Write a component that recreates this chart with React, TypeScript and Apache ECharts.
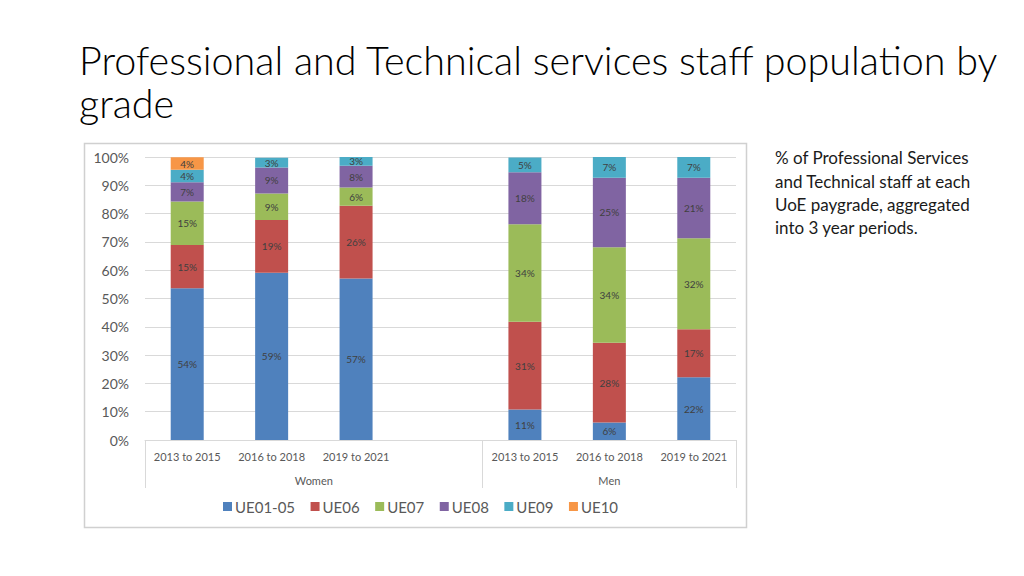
import React, { useEffect, useRef } from "react";
import * as echarts from "echarts";

const categories = ["2013 to 2015", "2016 to 2018", "2019 to 2021", "", "2013 to 2015", "2016 to 2018", "2019 to 2021"];
const groups = ["Women", "Men"];
const seriesNames = ["UE01-05", "UE06", "UE07", "UE08", "UE09", "UE10"];
const ue0105 = [53.6, 59.1, 57.1, null, 10.8, 6.2, 22.2];
const ue06 = [15.3, 18.6, 25.7, null, 31.0, 28.2, 16.9];
const ue07 = [15.4, 9.4, 6.4, null, 34.4, 33.7, 32.2];
const ue08 = [6.8, 9.2, 7.7, null, 18.4, 24.6, 21.4];
const ue09 = [4.4, 3.4, 3.1, null, 5.2, 7.3, 7.3];
const ue10 = [4.4, null, null, null, null, null, null];
const yTicks = [0, 10, 20, 30, 40, 50, 60, 70, 80, 90, 100];
const colors = ["#4F81BD", "#C0504D", "#9BBB59", "#8064A2", "#4BACC6", "#F79646"];

const titleText = "Professional and Technical services staff population by\ngrade";
const noteLines = [
  "% of Professional Services",
  "and Technical staff at each",
  "UoE paygrade, aggregated",
  "into 3 year periods.",
];

export default function App() {
  const ref = useRef<HTMLDivElement>(null);
  useEffect(() => {
    if (!ref.current) return;
    const chart = echarts.init(ref.current, null, { renderer: "svg" });
    const allData = [ue0105, ue06, ue07, ue08, ue09, ue10];
    const font = "Lato, 'Open Sans', sans-serif";
    chart.setOption({
      animation: false,
      backgroundColor: "#ffffff",
      textStyle: { fontFamily: font },
      title: {
        text: titleText,
        left: 74,
        top: 33,
        textStyle: { fontFamily: font, fontSize: 39.5, fontWeight: 300, color: "#000000", lineHeight: 43 },
      },
      graphic: [
        {
          type: "rect",
          shape: { x: 84.5, y: 143.5, width: 662, height: 384 },
          style: { fill: "none", stroke: "#d0d0d0", lineWidth: 1.5 },
          silent: true,
        },
        {
          type: "text",
          left: 775,
          top: 146,
          style: {
            text: noteLines.join("\n"),
            fontFamily: font,
            fontSize: 17,
            lineHeight: 23.4,
            fill: "#1a1a1a",
          },
        },
      ],
      legend: {
        left: 218,
        top: 494,
        itemWidth: 9,
        itemHeight: 9,
        itemGap: 15.5,
        icon: "rect",
        textStyle: { fontFamily: font, fontSize: 15, color: "#595959", padding: [0, 0, 0, -2] },
        data: seriesNames,
      },
      grid: { left: 145, top: 157, width: 591, height: 283 },
      xAxis: [
        {
          type: "category",
          data: categories,
          axisLine: { show: true, lineStyle: { color: "#d9d9d9" } },
          axisTick: { show: false },
          axisLabel: { interval: 0, color: "#595959", fontSize: 11, margin: 11, fontFamily: font },
        },
        {
          type: "value",
          min: 0,
          max: 7,
          position: "bottom",
          axisLine: { show: false },
          splitLine: { show: false },
          axisTick: {
            show: true,
            customValues: [0, 4, 7],
            length: 48,
            lineStyle: { color: "#d9d9d9" },
          },
          axisLabel: {
            show: true,
            customValues: [2, 5.5],
            formatter: (v: number) => (v === 2 ? groups[0] : groups[1]),
            color: "#595959",
            fontSize: 11,
            margin: 35,
            fontFamily: font,
          },
        },
      ],
      yAxis: {
        type: "value",
        min: 0,
        max: 100,
        interval: 10,
        axisLine: { show: false },
        axisTick: { show: false },
        splitLine: { lineStyle: { color: "#d9d9d9" } },
        axisLabel: {
          formatter: (v: number) => (yTicks.includes(v) ? v + "%" : ""),
          color: "#595959",
          fontSize: 14,
          margin: 16,
          fontFamily: font,
        },
      },
      series: seriesNames.map((name, i) => ({
        name,
        type: "bar",
        stack: "total",
        barWidth: 33,
        itemStyle: { color: colors[i] },
        data: allData[i],
        label: {
          show: true,
          position: "inside",
          fontSize: 10,
          color: "#404040",
          fontFamily: font,
          formatter: (p: any) => (p.value == null ? "" : Math.round(p.value) + "%"),
        },
      })),
    });
    return () => chart.dispose();
  }, []);
  return <div ref={ref} style={{ position: "fixed", left: 0, top: 0, width: 1024, height: 576 }} />;
}
